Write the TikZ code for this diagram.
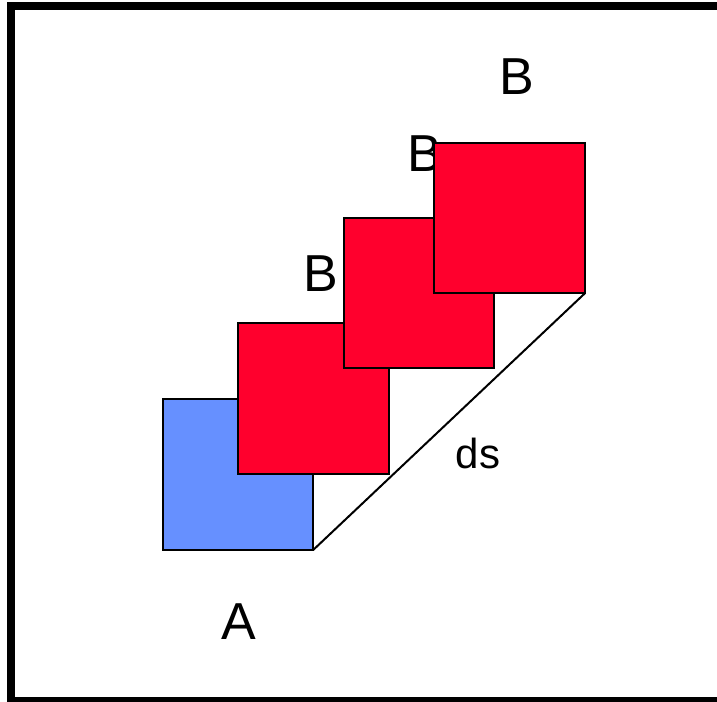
\documentclass[tikz,border=0pt]{standalone}
\usepackage{fontspec}
\setmainfont{Liberation Sans}
\usepackage{xcolor}
\usetikzlibrary{positioning}

\definecolor{sqblue}{RGB}{102,144,255}
\definecolor{sqred}{RGB}{255,0,45}

\begin{document}
\begin{tikzpicture}[
    x=0.75pt, y=-0.75pt,
    square/.style={draw, line width=1.5pt, minimum size=113pt, inner sep=0pt, outer sep=0pt},
    letter/.style={inner sep=0pt, font=\fontsize{39}{46}\selectfont},
    frame/.style={draw, line width=6pt}
]
    \useasboundingbox (0,0) rectangle (717,702);
    \draw[frame] (11,6) rectangle (722,701);

    % the start square and the moved copies
    \node[square, fill=sqblue] (sqA) at (238,474.5) {};
    \node[square, fill=sqred] (sqB1) at (313.5,398.5) {};
    \node[letter] (labB1) at (321,274) {B};
    \node[square, fill=sqred] (sqB2) at (419,293) {};
    \node[letter] (labB2) at (425,154) {B};
    \node[square, fill=sqred] (sqB3) at (509.5,218) {};
    \node[letter] (labB3) at (517,77) {B};

    \node[letter] (labA) at (239,622) {A};
    \node[inner sep=0pt, font=\fontsize{31.5}{38}\selectfont] (labds) at (478,453) {ds};

    \draw[line width=1.5pt] (sqA.south east) -- (sqB3.south east);
\end{tikzpicture}
\end{document}
